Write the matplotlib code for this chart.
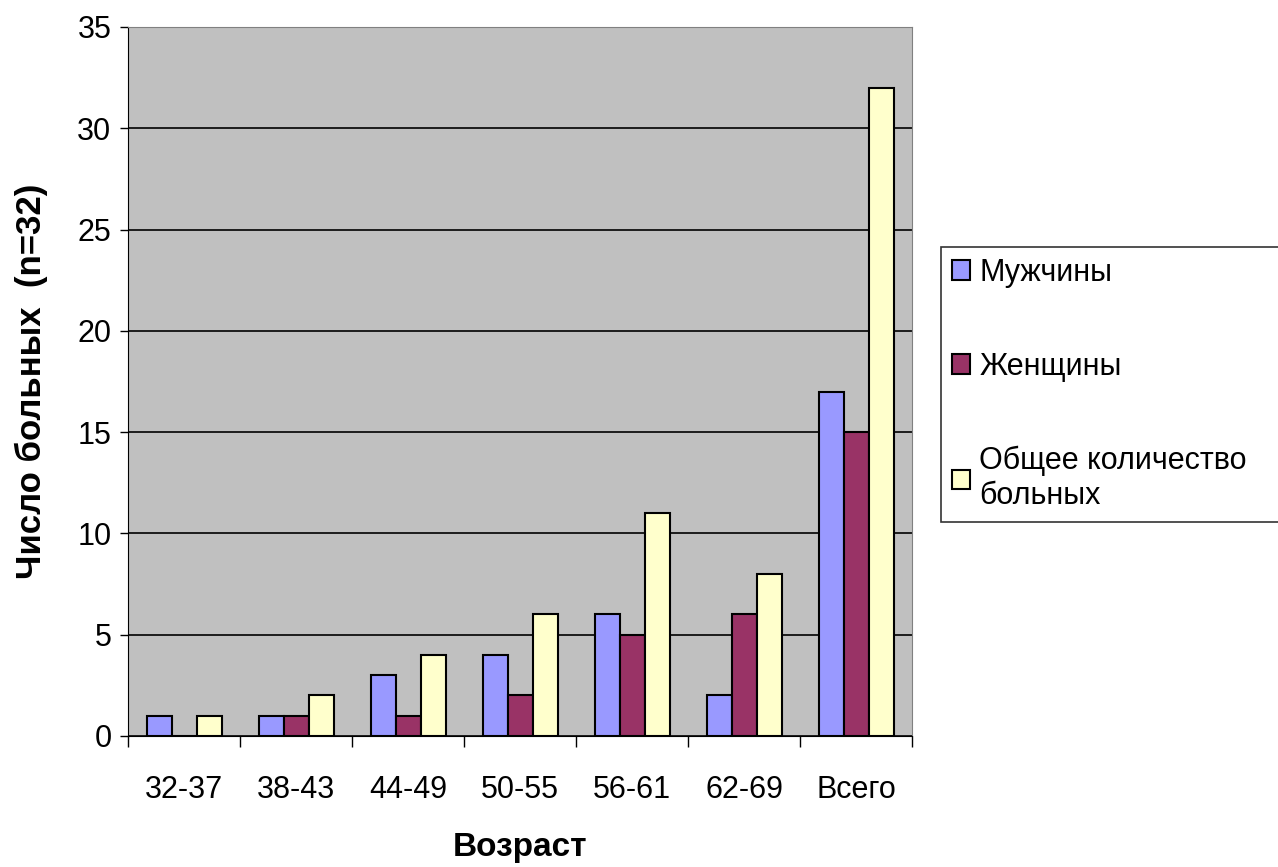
import numpy as np
import matplotlib.pyplot as plt

# Данные
vozrast = ["32-37", "38-43", "44-49", "50-55", "56-61", "62-69", "Всего"]
muzhchiny = [1, 1, 3, 4, 6, 2, 17]
zhenshchiny = [0, 1, 1, 2, 5, 6, 15]
obshchee = [1, 2, 4, 6, 11, 8, 32]

nazvaniya = ["Мужчины", "Женщины", "Общее количество\nбольных"]
cveta = ["#9999FF", "#993366", "#FFFFCC"]

plt.rcParams['font.family'] = ['Liberation Sans', 'DejaVu Sans']

fig = plt.figure(figsize=(12.78, 8.67), dpi=100)
ax = fig.add_axes([0.1002, 0.1511, 0.6135, 0.8178])
ax.set_facecolor("#C0C0C0")

x = np.arange(len(vozrast))
w = 0.223
for i, (ryad, c, n) in enumerate(zip([muzhchiny, zhenshchiny, obshchee], cveta, nazvaniya)):
    ax.bar(x + (i - 1) * w, ryad, width=w, color=c, edgecolor="black",
           linewidth=1.5, label=n, zorder=3)

ax.set_xlim(-0.5, len(vozrast) - 0.5)
ax.set_ylim(0, 35)
ax.set_yticks(range(0, 36, 5))
ax.yaxis.grid(True, color="black", linewidth=1.2, zorder=1)
ax.set_axisbelow(True)

# Подписи оси X и деления между категориями
ax.set_xticks(x)
ax.set_xticklabels(vozrast, fontsize=22)
ax.set_xticks(np.arange(-0.5, len(vozrast)), minor=True)
ax.tick_params(axis="x", which="major", length=0, pad=28)
ax.tick_params(axis="x", which="minor", length=8, width=1, direction="out")
ax.tick_params(axis="y", labelsize=22, length=6, width=1, pad=6)

for s in ["top", "right"]:
    ax.spines[s].set_color("#808080")
ax.spines["left"].set_color("black")
ax.spines["bottom"].set_color("black")

ax.set_xlabel("Возраст", fontsize=24, fontweight="bold", va="center")
ax.xaxis.set_label_coords(0.5, (736 - 847) / 709)
ax.set_ylabel("Число больных  (n=32)", fontsize=25, fontweight="bold", va="center")
ax.yaxis.set_label_coords((31 - 128) / 784, 0.5)

leg = fig.legend(loc="upper left",
                 bbox_to_anchor=(941 / 1278, (867 - 247) / 867, 0.3, 0.0),
                 mode="expand", fontsize=22, frameon=True, fancybox=False,
                 edgecolor="black", labelspacing=2.1, handlelength=0.6,
                 handleheight=0.6, handletextpad=0.3, borderpad=0.35,
                 borderaxespad=0)
leg.get_frame().set_linewidth(1.2)

fig.savefig("out.png", dpi=100)
